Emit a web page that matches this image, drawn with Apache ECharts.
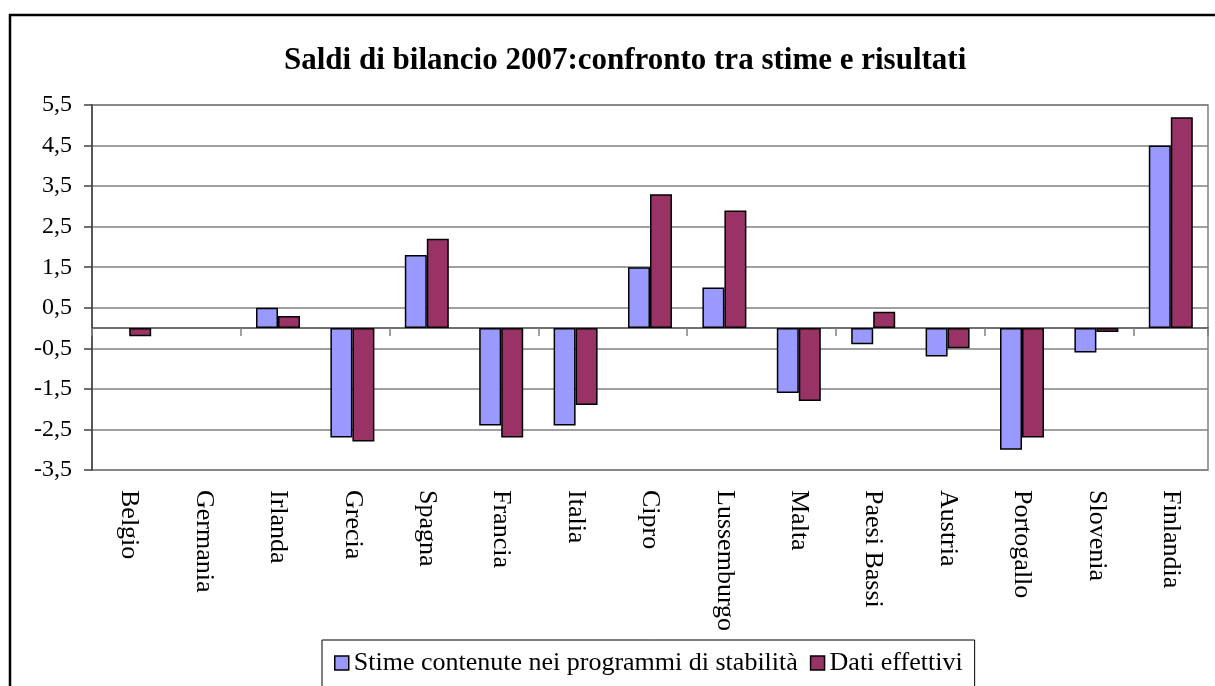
<!DOCTYPE html>
<html>
<head>
<meta charset="utf-8">
<script src="https://cdn.jsdelivr.net/npm/echarts@6/dist/echarts.min.js"></script>
<style>
  html, body { margin: 0; padding: 0; background: #ffffff; }
  #chart { width: 1215px; height: 686px; }
</style>
</head>
<body>
<div id="chart"></div>
<script>
// Paesi dell'area dell'euro
const categories = ['Belgio', 'Germania', 'Irlanda', 'Grecia', 'Spagna', 'Francia', 'Italia',
  'Cipro', 'Lussemburgo', 'Malta', 'Paesi Bassi', 'Austria', 'Portogallo', 'Slovenia', 'Finlandia'];

// Saldo di bilancio 2007 (% del PIL)
const stime = [0, 0, 0.5, -2.7, 1.8, -2.4, -2.4, 1.5, 1.0, -1.6, -0.4, -0.7, -3.0, -0.6, 4.5];
const effettivi = [-0.2, 0, 0.3, -2.8, 2.2, -2.7, -1.9, 3.3, 2.9, -1.8, 0.4, -0.5, -2.7, -0.1, 5.2];

const seriesNames = ['Stime contenute nei programmi di stabilità', 'Dati effettivi'];
const yMin = -3.5, yMax = 5.5, yStep = 1;

const serif = '"Liberation Serif", "DejaVu Serif", serif';
const chart = echarts.init(document.getElementById('chart'), null, { renderer: 'canvas' });

// zero-height bars leave no outline
const barData = (values) => values.map((v) => (v === 0 ? { value: v, itemStyle: { borderWidth: 0 } } : v));
const barStyle = (color) => ({ color: color, borderColor: '#000000', borderWidth: 1.5 });

chart.setOption({
  animation: false,
  backgroundColor: '#ffffff',
  title: {
    text: 'Saldi di bilancio 2007:confronto tra stime e risultati',
    left: 279,
    top: 40,
    textStyle: { fontFamily: serif, fontWeight: 'bold', fontSize: 31, color: '#000000' }
  },
  legend: {
    left: 322,
    top: 640,
    itemWidth: 14,
    itemHeight: 14,
    itemGap: 12,
    padding: [10, 12, 12, 12],
    borderColor: '#000000',
    borderWidth: 1,
    textStyle: { fontFamily: serif, fontSize: 26, color: '#000000' },
    icon: 'rect',
    itemStyle: { borderColor: '#000000', borderWidth: 1.5 },
    data: seriesNames
  },
  grid: {
    left: 92, right: 7, top: 105, bottom: 216,
    show: true, borderColor: '#808080', borderWidth: 1.5, backgroundColor: 'transparent'
  },
  xAxis: [
    {
      type: 'category',
      data: categories,
      position: 'bottom',
      axisLine: { show: false, onZero: false },
      axisTick: { show: false },
      axisLabel: {
        rotate: -90, margin: 20, interval: 0,
        fontFamily: serif, fontSize: 26, color: '#000000'
      },
      splitLine: { show: false }
    },
    {
      type: 'category',
      data: categories,
      position: 'bottom',
      axisLine: { show: true, onZero: true, lineStyle: { color: '#404040', width: 1.5 } },
      axisTick: { show: true, length: 8, lineStyle: { color: '#808080', width: 1.5 } },
      axisLabel: { show: false },
      splitLine: { show: false }
    }
  ],
  yAxis: {
    type: 'value',
    min: yMin, max: yMax, interval: yStep,
    axisLine: { show: true, lineStyle: { color: '#404040', width: 1.5 } },
    axisTick: { show: true, length: 8, lineStyle: { color: '#404040', width: 1.5 } },
    axisLabel: {
      margin: 20, fontFamily: serif, fontSize: 24, color: '#000000',
      formatter: (v) => v.toFixed(1).replace('.', ',')
    },
    splitLine: { show: true, lineStyle: { color: '#808080', width: 1.5 } }
  },
  series: [
    {
      name: seriesNames[0], type: 'bar', xAxisIndex: 0,
      data: barData(stime), barWidth: 22, barGap: '0%',
      itemStyle: barStyle('#9999ff')
    },
    {
      name: seriesNames[1], type: 'bar', xAxisIndex: 0,
      data: barData(effettivi), barWidth: 22, barGap: '0%',
      itemStyle: barStyle('#993366')
    }
  ],
  graphic: [
    {
      type: 'rect',
      shape: { x: 10, y: 15, width: 1230, height: 700 },
      style: { fill: 'none', stroke: '#000000', lineWidth: 2.5 },
      silent: true, z: 100
    }
  ]
});
</script>
</body>
</html>
